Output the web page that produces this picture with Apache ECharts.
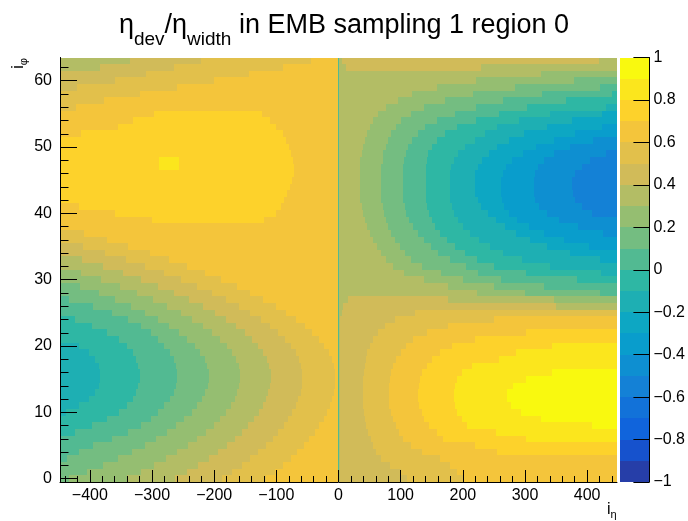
<!DOCTYPE html>
<html>
<head>
<meta charset="utf-8">
<title>eta dev / eta width, EMB sampling 1 region 0</title>
<script src="https://cdn.jsdelivr.net/npm/echarts@6.0.0/dist/echarts.min.js"></script>
<style>
  html, body { margin: 0; padding: 0; background: #fff; }
  #main { width: 688px; height: 521px; }
</style>
</head>
<body>
<div id="main"></div>
<script>
var FONT = "'Liberation Sans', Arial, Helvetica, sans-serif";

// z contour levels (20 steps from -1 to 1) and the palette colour of each step
var zLevels = [-1, -0.9, -0.8, -0.7, -0.6, -0.5, -0.4, -0.3, -0.2, -0.1, 0,
               0.1, 0.2, 0.3, 0.4, 0.5, 0.6, 0.7, 0.8, 0.9, 1];
var zColors = ['#263ea8', '#1652cd', '#1064dc', '#1272d9', '#1481d6',
               '#0e8fd1', '#099dcc', '#0da7c3', '#1eafb3', '#2eb7a4',
               '#52ba92', '#74bd81', '#95be71', '#b3bd65', '#d1bb59',
               '#e2c04b', '#f4c53b', '#fdd22b', '#fbe61d', '#f9f90f'];

// tick labels
var xTicks = [-400, -300, -200, -100, 0, 100, 200, 300, 400];
var yTicks = [0, 10, 20, 30, 40, 50, 60];
var zTicks = [-1, -0.8, -0.6, -0.4, -0.2, 0, 0.2, 0.4, 0.6, 0.8, 1];

// histogram range: i_eta and i_phi
var etaRange = [-448, 448];
var phiRange = [-0.5, 63.5];

// column at i_eta = 0 : [from, to, value]
var centreColumn = [-1, 1, 0.05];

// one entry per i_phi row (0..63): [value, eta where it ends, value, eta, ...]
// left half starts at eta = -448
var leftRuns = [
  [0.15,-433, 0.25,-341, 0.35,-263, 0.45,-187, 0.55,-116, 0.65,-1],
  [0.15,-405, 0.25,-318, 0.35,-244, 0.45,-171, 0.55,-102, 0.65,-1],
  [0.15,-379, 0.25,-297, 0.35,-226, 0.45,-156, 0.55,-89, 0.65,-1],
  [0.05,-437, 0.15,-354, 0.25,-277, 0.35,-209, 0.45,-142, 0.55,-77, 0.65,-1],
  [0.05,-418, 0.15,-332, 0.25,-259, 0.35,-194, 0.45,-129, 0.55,-66, 0.65,-1],
  [0.05,-395, 0.15,-311, 0.25,-242, 0.35,-180, 0.45,-117, 0.55,-56, 0.65,-1],
  [0.05,-365, 0.15,-293, 0.25,-227, 0.35,-167, 0.45,-106, 0.55,-47, 0.65,-1],
  [-0.05,-424, 0.05,-339, 0.15,-276, 0.25,-213, 0.35,-155, 0.45,-97, 0.55,-38, 0.65,-1],
  [-0.05,-396, 0.05,-318, 0.15,-261, 0.25,-201, 0.35,-145, 0.45,-88, 0.55,-31, 0.65,-1],
  [-0.05,-372, 0.05,-301, 0.15,-248, 0.25,-190, 0.35,-136, 0.45,-81, 0.55,-24, 0.65,-1],
  [-0.15,-438, -0.05,-353, 0.05,-290, 0.15,-236, 0.25,-181, 0.35,-128, 0.45,-74, 0.55,-19, 0.65,-1],
  [-0.15,-418, -0.05,-341, 0.05,-280, 0.15,-227, 0.25,-173, 0.35,-122, 0.45,-69, 0.55,-14, 0.65,-1],
  [-0.15,-402, -0.05,-331, 0.05,-271, 0.15,-219, 0.25,-167, 0.35,-117, 0.45,-65, 0.55,-11, 0.65,-1],
  [-0.15,-392, -0.05,-326, 0.05,-265, 0.15,-214, 0.25,-163, 0.35,-113, 0.45,-61, 0.55,-8, 0.65,-1],
  [-0.15,-386, -0.05,-322, 0.05,-262, 0.15,-210, 0.25,-160, 0.35,-110, 0.45,-59, 0.55,-6, 0.65,-1],
  [-0.15,-383, -0.05,-319, 0.05,-260, 0.15,-208, 0.25,-158, 0.35,-109, 0.45,-58, 0.55,-5, 0.65,-1],
  [-0.15,-383, -0.05,-319, 0.05,-260, 0.15,-208, 0.25,-158, 0.35,-109, 0.45,-58, 0.55,-5, 0.65,-1],
  [-0.15,-386, -0.05,-322, 0.05,-262, 0.15,-211, 0.25,-160, 0.35,-111, 0.45,-60, 0.55,-7, 0.65,-1],
  [-0.15,-392, -0.05,-326, 0.05,-265, 0.15,-215, 0.25,-165, 0.35,-115, 0.45,-64, 0.55,-10, 0.65,-1],
  [-0.15,-402, -0.05,-331, 0.05,-271, 0.15,-222, 0.25,-171, 0.35,-121, 0.45,-69, 0.55,-16, 0.65,-1],
  [-0.15,-418, -0.05,-341, 0.05,-280, 0.15,-231, 0.25,-180, 0.35,-129, 0.45,-77, 0.55,-23, 0.65,-1],
  [-0.05,-353, 0.05,-290, 0.15,-243, 0.25,-190, 0.35,-139, 0.45,-86, 0.55,-31, 0.65,-1],
  [-0.05,-372, 0.05,-301, 0.15,-256, 0.25,-203, 0.35,-151, 0.45,-97, 0.55,-42, 0.65,-1],
  [-0.05,-396, 0.05,-318, 0.15,-272, 0.25,-218, 0.35,-165, 0.45,-110, 0.55,-54, 0.65,-1],
  [-0.05,-424, 0.05,-339, 0.15,-290, 0.25,-235, 0.35,-181, 0.45,-125, 0.55,-68, 0.65,-1],
  [0.05,-365, 0.15,-311, 0.25,-254, 0.35,-198, 0.45,-142, 0.55,-84, 0.65,-1],
  [0.05,-395, 0.15,-334, 0.25,-276, 0.35,-218, 0.45,-160, 0.55,-101, 0.65,-1],
  [0.05,-434, 0.15,-359, 0.25,-299, 0.35,-240, 0.45,-181, 0.55,-121, 0.65,-1],
  [0.15,-386, 0.25,-324, 0.35,-264, 0.45,-203, 0.55,-142, 0.65,-1],
  [0.15,-416, 0.25,-352, 0.35,-290, 0.45,-227, 0.55,-164, 0.65,-1],
  [0.25,-382, 0.35,-317, 0.45,-253, 0.55,-189, 0.65,-1],
  [0.25,-414, 0.35,-347, 0.45,-281, 0.55,-215, 0.65,-1],
  [0.35,-379, 0.45,-311, 0.55,-243, 0.65,-1],
  [0.35,-412, 0.45,-342, 0.55,-273, 0.65,-1],
  [0.45,-376, 0.55,-304, 0.65,-1],
  [0.45,-411, 0.55,-338, 0.65,-1],
  [0.55,-373, 0.65,-1],
  [0.55,-410, 0.65,-1],
  [0.65,-1],
  [0.65,-300, 0.75,-120, 0.65,-1],
  [0.65,-360, 0.75,-101, 0.65,-1],
  [0.65,-417, 0.75,-92, 0.65,-1],
  [0.75,-88, 0.65,-1],
  [0.75,-83, 0.65,-1],
  [0.75,-78, 0.65,-1],
  [0.75,-74, 0.65,-1],
  [0.75,-72, 0.65,-1],
  [0.75,-289, 0.85,-257, 0.75,-72, 0.65,-1],
  [0.75,-289, 0.85,-257, 0.75,-73, 0.65,-1],
  [0.75,-76, 0.65,-1],
  [0.75,-80, 0.65,-1],
  [0.75,-84, 0.65,-1],
  [0.65,-414, 0.75,-90, 0.65,-1],
  [0.65,-355, 0.75,-101, 0.65,-1],
  [0.65,-330, 0.75,-110, 0.65,-1],
  [0.65,-296, 0.75,-123, 0.65,-1],
  [0.55,-422, 0.65,-1],
  [0.55,-378, 0.65,-1],
  [0.55,-320, 0.65,-1],
  [0.45,-421, 0.55,-260, 0.65,-1],
  [0.45,-360, 0.55,-200, 0.65,-1],
  [0.45,-309, 0.55,-144, 0.65,-1],
  [0.35,-384, 0.45,-264, 0.55,-89, 0.65,-1],
  [0.35,-336, 0.45,-221, 0.55,-44, 0.65,-1]
];

// right half starts at eta = 1
var rightRuns = [
  [0.35,3, 0.45,110, 0.55,200, 0.65,448],
  [0.35,3, 0.45,100, 0.55,190, 0.65,448],
  [0.35,3, 0.45,83, 0.55,180, 0.65,448],
  [0.35,3, 0.45,69, 0.55,163, 0.65,448],
  [0.35,3, 0.45,61, 0.55,134, 0.65,255, 0.75,448],
  [0.35,3, 0.45,56, 0.55,116, 0.65,219, 0.75,448],
  [0.35,3, 0.45,52, 0.55,104, 0.65,168, 0.75,301, 0.85,448],
  [0.35,3, 0.45,48, 0.55,98, 0.65,158, 0.75,253, 0.85,448],
  [0.35,3, 0.45,45, 0.55,92, 0.65,146, 0.75,207, 0.85,408, 0.95,448],
  [0.35,3, 0.45,42, 0.55,87, 0.65,137, 0.75,198, 0.85,325, 0.95,448],
  [0.35,3, 0.45,41, 0.55,84, 0.65,134, 0.75,191, 0.85,293, 0.95,448],
  [0.35,3, 0.45,40, 0.55,82, 0.65,130, 0.75,188, 0.85,277, 0.95,448],
  [0.35,3, 0.45,39, 0.55,81, 0.65,128, 0.75,186, 0.85,271, 0.95,448],
  [0.35,3, 0.45,39, 0.55,81, 0.65,128, 0.75,186, 0.85,271, 0.95,448],
  [0.35,3, 0.45,39, 0.55,82, 0.65,129, 0.75,187, 0.85,281, 0.95,448],
  [0.35,3, 0.45,40, 0.55,83, 0.65,131, 0.75,190, 0.85,301, 0.95,448],
  [0.35,3, 0.45,41, 0.55,85, 0.65,135, 0.75,198, 0.85,344, 0.95,448],
  [0.35,3, 0.45,42, 0.55,88, 0.65,142, 0.75,215, 0.85,448],
  [0.35,3, 0.45,44, 0.55,92, 0.65,150, 0.75,258, 0.85,448],
  [0.35,3, 0.45,46, 0.55,100, 0.65,163, 0.75,285, 0.85,448],
  [0.35,3, 0.45,50, 0.55,108, 0.65,182, 0.75,344, 0.85,448],
  [0.35,3, 0.45,56, 0.55,120, 0.65,219, 0.75,448],
  [0.35,3, 0.45,64, 0.55,142, 0.65,301, 0.75,448],
  [0.35,3, 0.45,75, 0.55,176, 0.65,448],
  [0.35,3, 0.45,91, 0.55,250, 0.65,448],
  [0.35,5, 0.45,123, 0.55,448],
  [0.35,7, 0.45,350, 0.35,448],
  [0.35,15, 0.45,176, 0.35,346, 0.25,448],
  [0.35,222, 0.25,300, 0.15,421, 0.05,448],
  [0.35,176, 0.25,250, 0.15,330, 0.05,448],
  [0.35,138, 0.25,200, 0.15,262, 0.05,384, -0.05,448],
  [0.35,105, 0.25,165, 0.15,225, 0.05,301, -0.05,423, -0.15,448],
  [0.35,88, 0.25,135, 0.15,205, 0.05,250, -0.05,340, -0.15,448],
  [0.35,77, 0.25,117, 0.15,179, 0.05,222, -0.05,295, -0.15,420, -0.25,448],
  [0.35,69, 0.25,107, 0.15,160, 0.05,203, -0.05,265, -0.15,372, -0.25,448],
  [0.35,62, 0.25,99, 0.15,148, 0.05,187, -0.05,243, -0.15,336, -0.25,403, -0.35,448],
  [0.35,56, 0.25,91, 0.15,137, 0.05,174, -0.05,226, -0.15,308, -0.25,362, -0.35,448],
  [0.35,50, 0.25,85, 0.15,128, 0.05,163, -0.05,212, -0.15,286, -0.25,330, -0.35,425, -0.45,448],
  [0.35,46, 0.25,80, 0.15,120, 0.05,155, -0.05,200, -0.15,268, -0.25,306, -0.35,385, -0.45,448],
  [0.35,42, 0.25,76, 0.15,114, 0.05,150, -0.05,192, -0.15,253, -0.25,287, -0.35,355, -0.45,448],
  [0.35,40, 0.25,73, 0.15,109, 0.05,146, -0.05,186, -0.15,240, -0.25,274, -0.35,335, -0.45,408, -0.55,448],
  [0.35,37, 0.25,71, 0.15,107, 0.05,143, -0.05,182, -0.15,230, -0.25,266, -0.35,322, -0.45,392, -0.55,448],
  [0.35,35, 0.25,69, 0.15,104, 0.05,140, -0.05,180, -0.15,224, -0.25,263, -0.35,316, -0.45,381, -0.55,448],
  [0.35,34, 0.25,68, 0.15,103, 0.05,140, -0.05,179, -0.15,220, -0.25,262, -0.35,314, -0.45,377, -0.55,448],
  [0.35,34, 0.25,68, 0.15,103, 0.05,140, -0.05,179, -0.15,219, -0.25,262, -0.35,314, -0.45,376, -0.55,448],
  [0.35,34, 0.25,68, 0.15,103, 0.05,140, -0.05,179, -0.15,219, -0.25,262, -0.35,314, -0.45,376, -0.55,448],
  [0.35,34, 0.25,68, 0.15,103, 0.05,140, -0.05,179, -0.15,220, -0.25,264, -0.35,316, -0.45,381, -0.55,448],
  [0.35,35, 0.25,69, 0.15,104, 0.05,140, -0.05,181, -0.15,224, -0.25,269, -0.35,321, -0.45,392, -0.55,448],
  [0.35,35, 0.25,71, 0.15,106, 0.05,142, -0.05,185, -0.15,231, -0.25,279, -0.35,331, -0.45,405, -0.55,448],
  [0.35,37, 0.25,72, 0.15,108, 0.05,144, -0.05,192, -0.15,242, -0.25,296, -0.35,347, -0.45,430, -0.55,448],
  [0.35,40, 0.25,76, 0.15,112, 0.05,150, -0.05,203, -0.15,255, -0.25,317, -0.35,372, -0.45,448],
  [0.35,42, 0.25,80, 0.15,119, 0.05,158, -0.05,220, -0.15,274, -0.25,346, -0.35,410, -0.45,448],
  [0.35,46, 0.25,85, 0.15,128, 0.05,171, -0.05,235, -0.15,298, -0.25,381, -0.35,448],
  [0.35,50, 0.25,92, 0.15,139, 0.05,190, -0.05,255, -0.15,336, -0.25,424, -0.35,448],
  [0.35,56, 0.25,101, 0.15,158, 0.05,221, -0.05,290, -0.15,376, -0.25,448],
  [0.35,64, 0.25,117, 0.15,187, 0.05,258, -0.05,340, -0.15,424, -0.25,448],
  [0.35,76, 0.25,137, 0.15,221, 0.05,303, -0.05,430, -0.15,448],
  [0.35,96, 0.25,171, 0.15,264, 0.05,366, -0.05,448],
  [0.35,119, 0.25,217, 0.15,327, 0.05,440, -0.05,448],
  [0.35,158, 0.25,284, 0.15,421, 0.05,448],
  [0.35,221, 0.25,379, 0.15,448],
  [0.35,325, 0.25,448],
  [0.35,12, 0.45,229, 0.35,448],
  [0.35,6, 0.45,419, 0.35,448]
];

// turn the runs into cells [etaFrom, etaTo, iphi, value]
var cells = [];
function addRuns(runs, etaStart) {
  runs.forEach(function (row, iphi) {
    var from = etaStart;
    for (var i = 0; i < row.length; i += 2) {
      cells.push([from, row[i + 1], iphi, row[i]]);
      from = row[i + 1];
    }
  });
}
addRuns(leftRuns, etaRange[0]);
addRuns(rightRuns, centreColumn[1]);
for (var iphi = 0; iphi < leftRuns.length; iphi++) {
  cells.push([centreColumn[0], centreColumn[1], iphi, centreColumn[2]]);
}

// palette boxes [0, zFrom, zTo, zMid]
var paletteBoxes = [];
for (var k = 0; k < zColors.length; k++) {
  paletteBoxes.push([0, zLevels[k], zLevels[k + 1], (zLevels[k] + zLevels[k + 1]) / 2]);
}

function minus(v) {
  var s = String(Math.round(v * 10) / 10);
  return s.charAt(0) === '-' ? '\u2212' + s.slice(1) : s;
}

function snapRect(a, b, api) {
  var x0 = Math.round(a[0]), x1 = Math.round(b[0]);
  var y0 = Math.round(b[1]), y1 = Math.round(a[1]);
  return {
    type: 'rect',
    shape: { x: x0, y: y0, width: x1 - x0, height: y1 - y0 },
    style: { fill: api.visual('color') }
  };
}

function renderCell(params, api) {
  var a = api.coord([api.value(0), api.value(2) - 0.5]);
  var b = api.coord([api.value(1), api.value(2) + 0.5]);
  return snapRect(a, b, api);
}

function renderBox(params, api) {
  var a = api.coord([0, api.value(1)]);
  var b = api.coord([1, api.value(2)]);
  return snapRect(a, b, api);
}

var chart = echarts.init(document.getElementById('main'), null, { renderer: 'canvas' });

var tickLine = { color: '#000', width: 1 };
var labelStyle = { color: '#000', fontSize: 16, fontFamily: FONT };

var option = {
  animation: false,
  backgroundColor: '#fff',
  title: {
    left: 'center',
    top: 2,
    padding: 0,
    text: '{m|\u03b7}{s|dev}{m|/\u03b7}{s|width}{m| in EMB sampling 1 region 0}',
    textStyle: {
      fontWeight: 'normal',
      rich: {
        m: { fontSize: 27, fontWeight: 'normal', fontFamily: FONT, color: '#000' },
        s: { fontSize: 19, fontWeight: 'normal', fontFamily: FONT, color: '#000', padding: [28, 0, 0, 0] }
      }
    }
  },
  visualMap: {
    show: false,
    type: 'piecewise',
    dimension: 3,
    seriesIndex: [0, 1],
    pieces: zColors.map(function (c, i) {
      return { gte: zLevels[i], lt: zLevels[i + 1], color: c };
    })
  },
  grid: [
    { left: 60, top: 57.5, width: 557, height: 424.5 },
    { left: 619.5, top: 57.5, width: 32, height: 424.5 }
  ],
  xAxis: [
    {
      type: 'value', gridIndex: 0, z: 5,
      min: etaRange[0], max: etaRange[1], splitNumber: 9,
      axisLine: { onZero: false, lineStyle: tickLine },
      axisTick: { inside: true, length: 12, lineStyle: tickLine, customValues: xTicks },
      minorTick: { show: true, splitNumber: 5, length: 6, lineStyle: tickLine },
      axisLabel: Object.assign({ customValues: xTicks, margin: 6, formatter: minus }, labelStyle),
      splitLine: { show: false }
    },
    { type: 'value', gridIndex: 1, min: 0, max: 1, show: false }
  ],
  yAxis: [
    {
      type: 'value', gridIndex: 0, z: 5,
      min: phiRange[0], max: phiRange[1], splitNumber: 6,
      axisLine: { onZero: false, lineStyle: tickLine },
      axisTick: { inside: true, length: 17, lineStyle: tickLine, customValues: yTicks },
      minorTick: { show: true, splitNumber: 5, length: 8.5, lineStyle: tickLine },
      axisLabel: Object.assign({ customValues: yTicks, margin: 8, formatter: minus }, labelStyle),
      splitLine: { show: false }
    },
    {
      type: 'value', gridIndex: 1, position: 'right', z: 5,
      min: -1, max: 1,
      axisLine: { show: true, onZero: false, lineStyle: tickLine },
      axisTick: { show: true, inside: true, length: 16, lineStyle: tickLine, customValues: zTicks },
      axisLabel: Object.assign({ customValues: zTicks, margin: 4, formatter: minus }, labelStyle),
      splitLine: { show: false }
    }
  ],
  graphic: [
    {
      type: 'text', x: 607, y: 499, silent: true,
      style: {
        text: '{i|i}{s|\u03b7}',
        rich: {
          i: { fontSize: 16, fontFamily: FONT, fill: '#000' },
          s: { fontSize: 11, fontFamily: FONT, fill: '#000', padding: [10, 0, 0, 0] }
        }
      }
    },
    {
      type: 'text', x: 8, y: 58, rotation: Math.PI / 2, silent: true,
      style: {
        text: '{i|i}{s|\u03c6}',
        align: 'right',
        rich: {
          i: { fontSize: 16, fontFamily: FONT, fill: '#000' },
          s: { fontSize: 11, fontFamily: FONT, fill: '#000', padding: [10, 0, 0, 0] }
        }
      }
    }
  ],
  series: [
    {
      type: 'custom', xAxisIndex: 0, yAxisIndex: 0, z: 1,
      renderItem: renderCell,
      encode: { x: [0, 1], y: 2 },
      data: cells,
      silent: true
    },
    {
      type: 'custom', xAxisIndex: 1, yAxisIndex: 1, z: 1,
      renderItem: renderBox,
      encode: { x: 0, y: [1, 2] },
      data: paletteBoxes,
      silent: true
    }
  ]
};

chart.setOption(option);
</script>
</body>
</html>
